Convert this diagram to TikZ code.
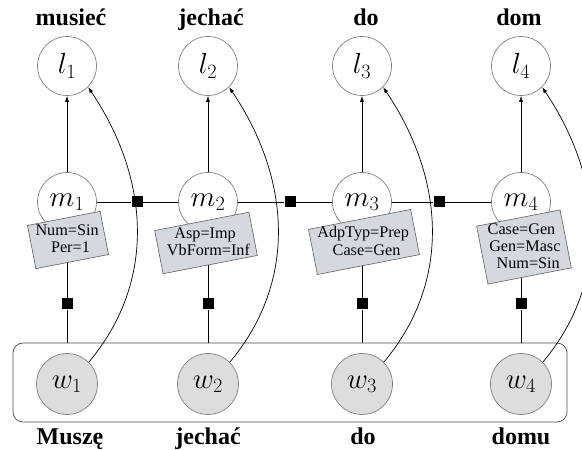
\RequirePackage{fix-cm}
\documentclass[tikz,border=0pt]{standalone}
\usepackage{fontspec}
\setmainfont{Liberation Serif}
\usetikzlibrary{arrows.meta}
\definecolor{boxfill}{RGB}{212,217,224}
\definecolor{boxline}{RGB}{95,95,95}
\definecolor{circ}{RGB}{128,128,128}
\definecolor{wfill}{RGB}{221,221,221}
\begin{document}
\begin{tikzpicture}[x=1pt,y=1pt,
  var/.style={circle, draw=circ, line width=0.7pt, fill=white, minimum size=59pt, inner sep=0pt, font=\fontsize{29}{31}\selectfont},
  obs/.style={var, fill=wfill, minimum size=61pt},
  fac/.style={rectangle, fill=black, minimum size=11pt, inner sep=0pt},
  featline/.style={draw=boxline, line width=0.6pt, fill=boxfill},
  feattext/.style={anchor=base, inner sep=0pt, font=\fontsize{16.2}{18}\selectfont},
  word/.style={font=\bfseries\fontsize{24}{26}\selectfont, anchor=base},
  edge/.style={line width=0.7pt},
  arr/.style={edge, -{Latex[length=6pt,width=4pt]}},
  bendarr/.style={arr, out=50, in=-56},
]
\useasboundingbox (0,0) rectangle (582,450);
\node[draw=black!70, rounded corners=10pt, minimum width=554pt, minimum height=79pt, line width=0.7pt] (plate) at (290,67.5) {};
% latent lemma nodes
\node[var] (l1) at (67,384) {$l_1$};
\node[var] (l2) at (208,384) {$l_2$};
\node[var] (l3) at (362,384) {$l_3$};
\node[var] (l4) at (521,384) {$l_4$};
% morph nodes
\node[var] (m1) at (67,248) {$m_1$};
\node[var] (m2) at (208,248) {$m_2$};
\node[var] (m3) at (362,248) {$m_3$};
\node[var] (m4) at (521,248) {$m_4$};
% word nodes
\node[obs] (w1) at (67,66) {$w_1$};
\node[obs] (w2) at (208,66) {$w_2$};
\node[obs] (w3) at (362,66) {$w_3$};
\node[obs] (w4) at (521,66) {$w_4$};
% factors
\node[fac] (h1) at (137,248) {};
\node[fac] (h2) at (290,248) {};
\node[fac] (h3) at (439,248) {};
\node[fac] (v1) at (67,146) {};
\node[fac] (v2) at (208,146) {};
\node[fac] (v3) at (362,146) {};
\node[fac] (v4) at (521,146) {};
% edges
\draw[edge] (m1) -- (h1) -- (m2) -- (h2) -- (m3) -- (h3) -- (m4);
\draw[edge] (m1) -- (v1) -- (v1 |- plate.north);
\draw[edge] (m2) -- (v2) -- (v2 |- plate.north);
\draw[edge] (m3) -- (v3) -- (v3 |- plate.north);
\draw[edge] (m4) -- (v4) -- (v4 |- plate.north);
\draw[arr] (m1) -- (l1);
\draw[arr] (m2) -- (l2);
\draw[arr] (m3) -- (l3);
\draw[arr] (m4) -- (l4);
\draw[bendarr] (w1.45) to (l1.-45);
\draw[bendarr] (w2.45) to (l2.-45);
\draw[bendarr] (w3.45) to (l3.-45);
\draw[bendarr] (w4.45) to (l4.-45);
% feature boxes (tilted)
\begin{scope}[shift={(68,210)}, rotate=11]
  \draw[featline] (-37,-22) -- (37,-22) -- (37,22) -- (-37,22) -- cycle;
  \node[feattext] (f1a) at (0,4.8) {Num=Sin};
  \node[feattext] (f1b) at (0,-12.8) {Per=1};
\end{scope}
\begin{scope}[shift={(206,207)}, rotate=11]
  \draw[featline] (-48,-22) -- (48,-22) -- (48,22) -- (-48,22) -- cycle;
  \node[feattext] (f2a) at (0,4.8) {Asp=Imp};
  \node[feattext] (f2b) at (0,-12.8) {VbForm=Inf};
\end{scope}
\begin{scope}[shift={(364,208)}, rotate=11]
  \draw[featline] (-52,-23) -- (52,-23) -- (52,23) -- (-52,23) -- cycle;
  \node[feattext] (f3a) at (0,4.3) {AdpTyp=Prep};
  \node[feattext] (f3b) at (0,-13.3) {Case=Gen};
\end{scope}
\begin{scope}[shift={(524,203)}, rotate=11]
  \draw[featline] (-42.5,-29.5) -- (42.5,-29.5) -- (42.5,29.5) -- (-42.5,29.5) -- cycle;
  \node[feattext] (f4a) at (0,13) {Case=Gen};
  \node[feattext] (f4b) at (0,-4.5) {Gen=Masc};
  \node[feattext] (f4c) at (0,-22) {Num=Sin};
\end{scope}
% words
\node[word] (t1) at (71,424) {musieć};
\node[word] (t2) at (211,424) {jechać};
\node[word] (t3) at (366,424) {do};
\node[word] (t4) at (519,424) {dom};
\node[word] (b1) at (70,5) {Muszę};
\node[word] (b2) at (208,5) {jechać};
\node[word] (b3) at (363,5) {do};
\node[word] (b4) at (521,5) {domu};
\end{tikzpicture}
\end{document}
